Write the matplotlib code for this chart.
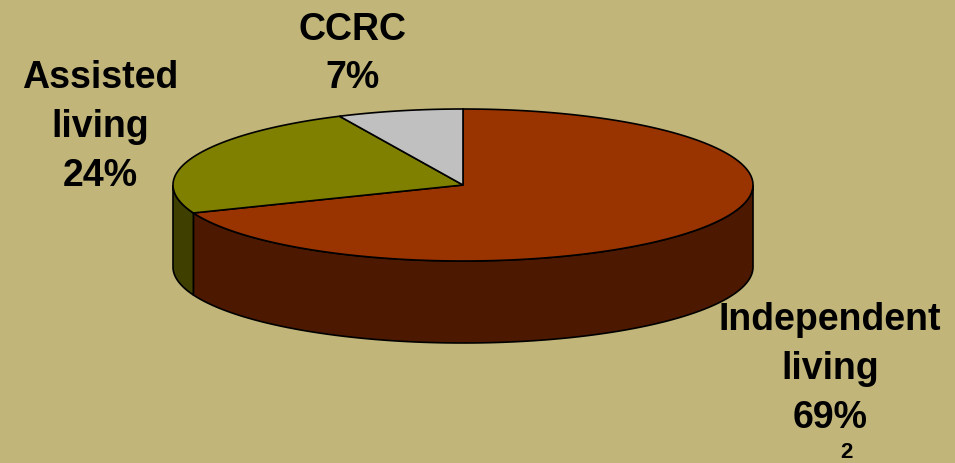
import numpy as np
import matplotlib.pyplot as plt
from matplotlib.patches import Polygon

# shares of the pie (percent)
labels = ['Independent\nliving', 'Assisted\nliving', 'CCRC']
shares = [69, 24, 7]
top_colors = ['#993300', '#808000', '#C0C0C0']
side_colors = ['#4C1900', '#3F3F00', '#808080']

bg = '#C1B57A'
cx, cy = 463, 186      # centre of top face (pixels)
rx, ry = 290, 76       # ellipse radii
depth = 82             # thickness of the disc

fig = plt.figure(figsize=(9.55, 4.64), dpi=100, facecolor=bg)
ax = fig.add_axes([0, 0, 1, 1])
ax.set_facecolor(bg)
ax.set_xlim(0, 955)
ax.set_ylim(464, 0)
ax.axis('off')


def ell(t):
    return cx + rx * np.cos(t), cy - ry * np.sin(t)


# wedges go clockwise from 12 o'clock
fracs = np.array(shares) / np.sum(shares)
starts = np.pi / 2 - 2 * np.pi * np.concatenate([[0], np.cumsum(fracs)[:-1]])
ends = starts - 2 * np.pi * fracs

# side walls first (only the front half is visible)
for s, e, col in zip(starts, ends, side_colors):
    t = np.linspace(e, s, 400)
    vis = np.sin(t) <= 0
    if not vis.any():
        continue
    idx = np.where(vis)[0]
    # split into contiguous runs
    runs = np.split(idx, np.where(np.diff(idx) > 1)[0] + 1)
    for r in runs:
        tt = t[r]
        x, y = ell(tt)
        xs = np.concatenate([x, x[::-1]])
        ys = np.concatenate([y, (y + depth)[::-1]])
        ax.add_patch(Polygon(np.column_stack([xs, ys]), closed=True,
                             facecolor=col, edgecolor='black', lw=1.2))

# top faces
for s, e, col in zip(starts, ends, top_colors):
    t = np.linspace(s, e, 300)
    x, y = ell(t)
    pts = np.column_stack([np.concatenate([[cx], x]), np.concatenate([[cy], y])])
    ax.add_patch(Polygon(pts, closed=True, facecolor=col,
                         edgecolor='black', lw=1.2))

font = dict(family=['Liberation Sans', 'DejaVu Sans'], fontweight='bold',
            fontsize=27, ha='center', va='center', linespacing=1.45)
label_pos = [(830, 369), (100, 127), (352, 54)]
for lab, v, (lx, ly) in zip(labels, shares, label_pos):
    ax.text(lx, ly, f'{lab}\n{v}%', **font)

ax.text(846, 453, '2', family=['Liberation Sans', 'DejaVu Sans'],
        fontweight='bold', fontsize=16, ha='center', va='center')

fig.savefig('out.png', dpi=100, facecolor=bg)
